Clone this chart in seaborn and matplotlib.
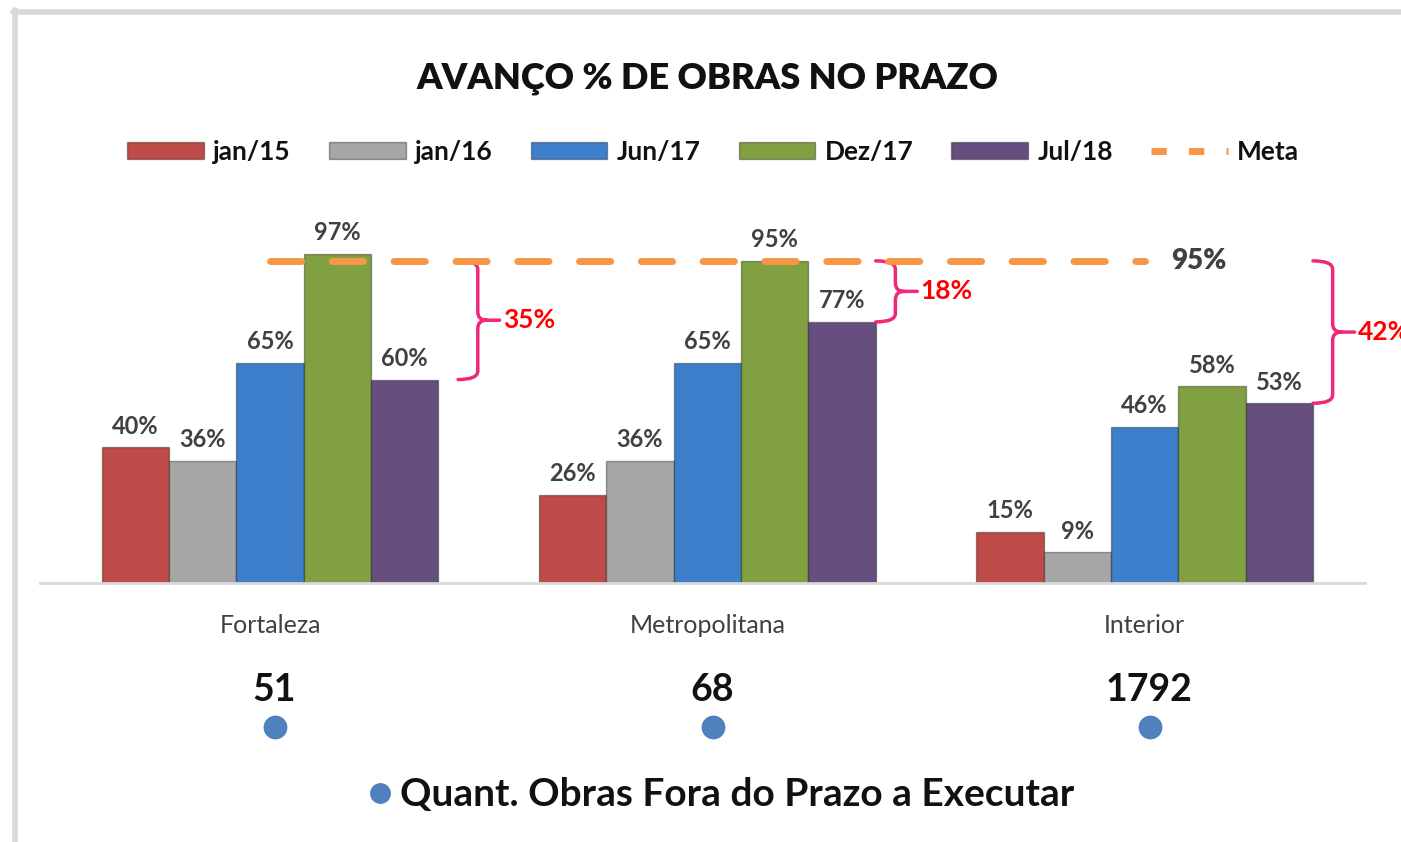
import pandas as pd
import numpy as np
import matplotlib
matplotlib.use('Agg')
import matplotlib.pyplot as plt
import seaborn as sns
from matplotlib.path import Path
from matplotlib.patches import PathPatch, Patch
from matplotlib.lines import Line2D

# Dados
categorias = ['Fortaleza', 'Metropolitana', 'Interior']
periodos = ['jan/15', 'jan/16', 'Jun/17', 'Dez/17', 'Jul/18']
jan15 = [40, 26, 15]
jan16 = [36, 36, 9]
jun17 = [65, 65, 46]
dez17 = [97, 95, 58]
jul18 = [60, 77, 53]
meta = [95, 95, 95]
fora_prazo = [51, 68, 1792]

cores = ['#BE4B48', '#A6A6A6', '#3E7FCB', '#81A042', '#664F80']

df = pd.DataFrame({
    'regiao': categorias * 5,
    'periodo': np.repeat(periodos, 3),
    'valor': jan15 + jan16 + jun17 + dez17 + jul18,
})

sns.set_style('white')
plt.rcParams['font.family'] = ['Lato', 'DejaVu Sans']

fig = plt.figure(figsize=(14.01, 8.42), dpi=100)
ax = fig.add_axes([0.0286, 0.3076, 0.9454, 0.443])

sns.barplot(data=df, x='regiao', y='valor', hue='periodo', order=categorias,
            hue_order=periodos, palette=cores, width=0.77, gap=0,
            saturation=1, legend=False, ax=ax, linewidth=0)

# leve efeito de relevo nas barras
for cont in ax.containers:
    for b in cont:
        b.set_edgecolor((0, 0, 0, 0.35))
        b.set_linewidth(1.0)

for cont in ax.containers:
    ax.bar_label(cont, fmt='%d%%', padding=7, fontsize=17, fontweight='bold', color='#404040')

# linha da meta
x = np.arange(len(categorias))
ax.plot(x, meta, color='#F79646', linestyle=(0, (4.5, 4.4)), linewidth=5, dash_capstyle='round')
ax.text(x[-1] + 0.06, meta[-1], f'{meta[-1]}%', fontsize=20, fontweight='heavy',
        color='#404040', va='center', ha='left')

ax.set_xlim(-0.526, 2.503)
ax.set_ylim(0, 110)
ax.set_yticks([])
ax.set_xlabel('')
ax.set_ylabel('')
ax.set_xticks(x)
ax.set_xticklabels(categorias, fontsize=18, color='#404040')
ax.tick_params(axis='x', length=0, pad=22)
for s in ['top', 'right', 'left']:
    ax.spines[s].set_visible(False)
ax.spines['bottom'].set_color('#D9D9D9')
ax.spines['bottom'].set_linewidth(2)


# chaves com a diferenca para a meta
def chave(ax, x0, topo, base, cor='#F0287A'):
    x1 = x0 + 0.045
    x2 = x0 + 0.095
    xm = x1 + 0.02
    ym = (topo + base) / 2
    r = 2.5
    verts = [(x0, topo), (x1, topo), (x1, topo - r), (x1, ym + r), (x1, ym), (xm, ym), (x2, ym),
             (xm, ym), (x1, ym), (x1, ym - r), (x1, base + r), (x1, base), (x0, base)]
    codes = [Path.MOVETO, Path.CURVE3, Path.CURVE3, Path.LINETO, Path.CURVE3, Path.CURVE3, Path.LINETO,
             Path.MOVETO, Path.CURVE3, Path.CURVE3, Path.LINETO, Path.CURVE3, Path.CURVE3]
    ax.add_patch(PathPatch(Path(verts, codes), fill=False, edgecolor=cor, linewidth=2.5,
                           clip_on=False, capstyle='round'))
    return x2


desloc = [0.045, 0.0, 0.0]
for i in range(len(categorias)):
    borda = x[i] + 0.385 + desloc[i]
    x2 = chave(ax, borda, meta[i], jul18[i])
    ax.text(x2 + 0.008, (meta[i] + jul18[i]) / 2, f'{meta[i] - jul18[i]}%', fontsize=19,
            fontweight='bold', color='#FF0000', va='center', ha='left', clip_on=False)

# quantidade de obras fora do prazo
for i in range(len(categorias)):
    ax.text(x[i] + 0.01, -31.6, str(fora_prazo[i]), fontsize=27, fontweight='bold',
            color='#111111', ha='center', va='center', clip_on=False)
ax.scatter(x + 0.012, [-42.5] * len(x), s=260, color='#4F81BD', clip_on=False, zorder=3)

# titulo e legendas
fig.text(0.505, 0.907, 'AVANÇO % DE OBRAS NO PRAZO', fontsize=26, fontweight='heavy',
         ha='center', va='center', color='#111111')

handles = [Patch(facecolor=c, edgecolor=(0, 0, 0, 0.35), linewidth=1.0) for c in cores]
handles.append(Line2D([0], [0], color='#F79646', linestyle=(0, (2.2, 3.2)), linewidth=5))
leg = fig.legend(handles, periodos + ['Meta'], loc='center', bbox_to_anchor=(0.509, 0.8195),
                 ncol=6, frameon=False, prop={'size': 19, 'weight': 'bold'},
                 handlelength=2.9, handleheight=0.6, handletextpad=0.35, columnspacing=1.45)
for t in leg.get_texts():
    t.set_color('#111111')

h2 = [Line2D([0], [0], marker='o', color='none', markerfacecolor='#4F81BD',
             markeredgecolor='#4F81BD', markersize=14)]
leg2 = fig.legend(h2, ['Quant. Obras Fora do Prazo a Executar'], loc='center',
                  bbox_to_anchor=(0.514, 0.056), frameon=False,
                  prop={'size': 28, 'weight': 'bold'}, handlelength=0.7, handletextpad=0.15)
for t in leg2.get_texts():
    t.set_color('#111111')

# moldura cinza
fig.add_artist(Line2D([0.009, 1], [0.986, 0.986], color='#D9D9D9', linewidth=4, transform=fig.transFigure))
fig.add_artist(Line2D([0.011, 0.011], [0, 0.988], color='#D9D9D9', linewidth=4, transform=fig.transFigure))

fig.savefig('out.png', dpi=100, facecolor='white')
